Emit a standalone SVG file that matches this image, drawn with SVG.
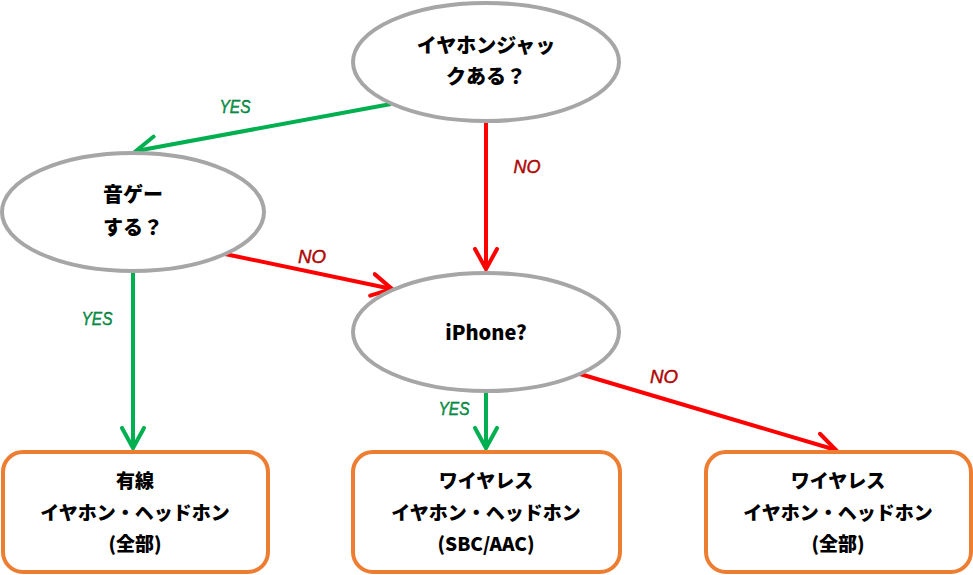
<svg xmlns="http://www.w3.org/2000/svg" width="973" height="575" viewBox="0 0 973 575">
<style>
.q{fill:#fff;stroke:#A6A6A6;stroke-width:4}
.b{fill:#fff;stroke:#ED7D31;stroke-width:4}
.t{font-family:"Noto Sans CJK JP","Liberation Sans",sans-serif;font-weight:900;fill:#000;text-anchor:middle}
.tq{font-size:20px}
.tb{font-size:19px}
.g{stroke:#00B050;stroke-width:4;fill:none}
.r{stroke:#FF0000;stroke-width:4;fill:none}
.lab{font-family:"Liberation Sans",sans-serif;font-style:italic;font-size:18px;text-anchor:middle;stroke-width:0.4}
.ly{fill:#00A04A;stroke:#00602A}
.ln{fill:#E00000;stroke:#600000}
</style>
<defs>
<marker id="ag" markerUnits="userSpaceOnUse" markerWidth="30" markerHeight="30" refX="22" refY="12" orient="auto" viewBox="0 0 30 24">
<path d="M2,1 L22,12 L2,23" fill="none" stroke="#00B050" stroke-width="4" stroke-linecap="round" stroke-linejoin="miter"/>
</marker>
<marker id="ar" markerUnits="userSpaceOnUse" markerWidth="30" markerHeight="30" refX="22" refY="12" orient="auto" viewBox="0 0 30 24">
<path d="M2,1 L22,12 L2,23" fill="none" stroke="#FF0000" stroke-width="4" stroke-linecap="round" stroke-linejoin="miter"/>
</marker>
</defs>
<rect width="973" height="575" fill="#fff"/>
<g id="connectors">
<line class="g" x1="391" y1="104" x2="136" y2="151" marker-end="url(#ag)"/>
<line class="r" x1="486" y1="122" x2="486" y2="269" marker-end="url(#ar)"/>
<line class="r" x1="225" y1="254" x2="392" y2="289" marker-end="url(#ar)"/>
<line class="g" x1="133" y1="272" x2="133" y2="448" marker-end="url(#ag)"/>
<line class="g" x1="486" y1="392" x2="486" y2="448" marker-end="url(#ag)"/>
<line class="r" x1="580" y1="374" x2="836" y2="450" marker-end="url(#ar)"/>
<text class="lab ly" x="235" y="113" textLength="31" lengthAdjust="spacingAndGlyphs">YES</text>
<text class="lab ln" x="527" y="173" textLength="27" lengthAdjust="spacingAndGlyphs">NO</text>
<text class="lab ln" x="312" y="263" textLength="28" lengthAdjust="spacingAndGlyphs">NO</text>
<text class="lab ly" x="97" y="325" textLength="31" lengthAdjust="spacingAndGlyphs">YES</text>
<text class="lab ly" x="454" y="415" textLength="31" lengthAdjust="spacingAndGlyphs">YES</text>
<text class="lab ln" x="664" y="383" textLength="28" lengthAdjust="spacingAndGlyphs">NO</text>
</g>
<g id="q1">
<ellipse class="q" cx="486" cy="62" rx="133" ry="59"/>
<text class="t tq" x="486" y="53">イヤホンジャッ</text>
<text class="t tq" x="486" y="84">クある？</text>
</g>
<g id="q2">
<ellipse class="q" cx="133" cy="212" rx="131" ry="59"/>
<text class="t tq" x="133" y="202">音ゲー</text>
<text class="t tq" x="133" y="235">する？</text>
</g>
<g id="q3">
<ellipse class="q" cx="486" cy="332" rx="133" ry="59"/>
<text class="t tq" x="486" y="340">iPhone?</text>
</g>
<g id="r1">
<rect class="b" x="3" y="452" width="265" height="120" rx="20"/>
<text class="t tb" x="135" y="488">有線</text>
<text class="t tb" x="135" y="520">イヤホン・ヘッドホン</text>
<text class="t tb" x="135" y="551">(全部)</text>
</g>
<g id="r2">
<rect class="b" x="353" y="452" width="267" height="120" rx="20"/>
<text class="t tb" x="486" y="488">ワイヤレス</text>
<text class="t tb" x="486" y="520">イヤホン・ヘッドホン</text>
<text class="t tb" x="486" y="551">(SBC/AAC)</text>
</g>
<g id="r3">
<rect class="b" x="706" y="452" width="265" height="120" rx="20"/>
<text class="t tb" x="838" y="488">ワイヤレス</text>
<text class="t tb" x="838" y="520">イヤホン・ヘッドホン</text>
<text class="t tb" x="838" y="551">(全部)</text>
</g>
</svg>
